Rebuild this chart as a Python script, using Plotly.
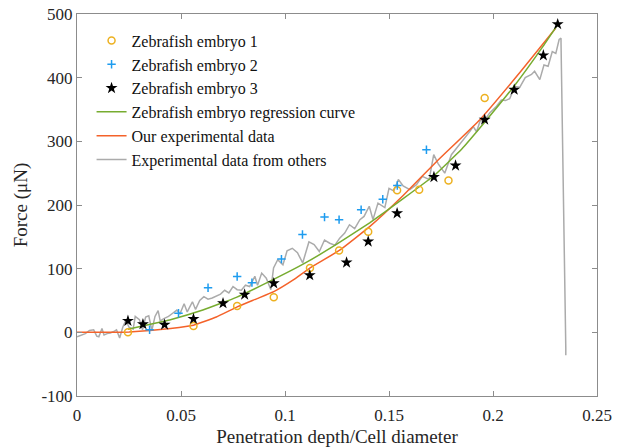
import plotly.graph_objects as go

# Zebrafish embryo 1 (circles)
e1_x = [0.0245, 0.056, 0.077, 0.0946, 0.112, 0.126, 0.140, 0.1539, 0.1645, 0.1786, 0.196]
e1_y = [0, 10, 41.5, 55, 101, 128.5, 158, 223, 224, 238.5, 368]

# Zebrafish embryo 2 (crosses)
e2_x = [0.0349, 0.0488, 0.063, 0.077, 0.0841, 0.0983, 0.1084, 0.119, 0.126, 0.1366, 0.147, 0.154, 0.168]
e2_y = [4, 30, 70, 87.6, 78, 115, 153.6, 181, 177, 192.5, 209, 230.7, 286.8]

# Zebrafish embryo 3 (stars)
e3_x = [0.0245, 0.0317, 0.0421, 0.056, 0.0702, 0.0806, 0.0946, 0.1119, 0.1296, 0.140, 0.1539,
        0.1716, 0.182, 0.196, 0.2102, 0.2242, 0.2311]
e3_y = [18, 12.7, 12, 21, 45.7, 59.3, 77, 89.7, 109.6, 142.6, 187,
        243.9, 262, 334, 381, 435, 484]

# Regression curve (green)
reg_x = [0.0245, 0.0445, 0.0605, 0.0766, 0.0926, 0.1087, 0.1247, 0.1407, 0.1568, 0.1716,
         0.1850, 0.1960, 0.2102, 0.2242, 0.2310]
reg_y = [5, 19.5, 35, 55, 80, 107, 138, 172, 210, 246, 288, 330, 387, 450, 483]

# Our experimental data (orange)
ours_x = [0, 0.018, 0.025, 0.035, 0.045, 0.056, 0.067, 0.077, 0.0866, 0.0946, 0.1038, 0.1119,
          0.1263, 0.1407, 0.1568, 0.1728, 0.1937, 0.2129, 0.2302]
ours_y = [0, 0, 0.5, 3, 6, 11, 24, 40, 53, 64, 82, 101, 129, 166, 215, 268, 334, 408, 478]

# Experimental data from others (gray)
oth_x = [0, 0.002, 0.004, 0.006, 0.008, 0.0095, 0.0105, 0.012, 0.013, 0.0145, 0.016, 0.018, 0.019,
         0.0205, 0.022, 0.0235, 0.025, 0.027, 0.028, 0.030, 0.0315, 0.033, 0.0345, 0.036, 0.0375,
         0.039, 0.040, 0.042, 0.044, 0.046, 0.048, 0.0495, 0.0515, 0.053, 0.0555, 0.057, 0.059,
         0.061, 0.063, 0.065, 0.067, 0.069, 0.071, 0.073, 0.075, 0.077, 0.079, 0.081, 0.083,
         0.0855, 0.0868, 0.0888, 0.091, 0.0932, 0.0945, 0.0965, 0.099, 0.101, 0.1035, 0.106,
         0.1085, 0.1115, 0.114, 0.1165, 0.119, 0.1215, 0.124, 0.1263, 0.1287, 0.131, 0.1335,
         0.136, 0.138, 0.1405, 0.1423, 0.1447, 0.148, 0.150, 0.1523, 0.1545, 0.1568, 0.160,
         0.1632, 0.166, 0.1693, 0.1715, 0.1736, 0.1768, 0.180, 0.1825, 0.1849, 0.1873, 0.189,
         0.1905, 0.1921, 0.194, 0.1953, 0.1985, 0.2017, 0.204, 0.206, 0.208, 0.2105, 0.2129,
         0.2155, 0.2185, 0.220, 0.2225, 0.2245, 0.2265, 0.2285, 0.2302, 0.2318, 0.2327, 0.2327,
         0.2350, 0.2350]
oth_y = [-7, -5, -2, 3, 4, -6, -7, 6, -4, -2, -1, 2, 4,
         -9, 8, 19, 8, 5, 25, 20, 4, 24, 26, 3, 25,
         34, 18, 22, 25, 30, 35, 29, 45, 32, 48, 36, 50,
         56, 52, 54, 57, 60, 66, 62, 72, 67, 66, 74, 72,
         88, 74, 93, 85, 67, 101, 114, 106, 128, 132, 125,
         109, 142, 138, 127, 145, 140, 137, 148, 156, 169, 163,
         177, 182, 198, 177, 203, 196, 226, 222, 240, 230, 224,
         232, 245, 240, 279, 265, 250, 279, 289, 300, 308, 316,
         323, 315, 334, 330, 345, 355, 365, 364, 367, 386, 385,
         400, 405, 410, 397, 420, 418, 441, 438, 460, 462, 455, -25,
         -36, -3]

x_ticks = [0, 0.05, 0.1, 0.15, 0.2, 0.25]
x_tick_text = ["0", "0.05", "0.1", "0.15", "0.2", "0.25"]
y_ticks = [-100, 0, 100, 200, 300, 400, 500]
y_tick_text = ["-100", "0", "100", "200", "300", "400", "500"]

FONT = "Liberation Serif, Times New Roman, serif"
C_GRAY = "#ABABAB"
C_ORANGE = "#F4622A"
C_GREEN = "#77AC30"

fig = go.Figure()
fig.add_trace(go.Scatter(x=oth_x, y=oth_y, mode="lines", name="Experimental data from others",
                         line=dict(color=C_GRAY, width=1.5), showlegend=False))
fig.add_trace(go.Scatter(x=ours_x, y=ours_y, mode="lines", name="Our experimental data",
                         line=dict(color=C_ORANGE, width=1.5, shape="spline", smoothing=0.3),
                         showlegend=False))
fig.add_trace(go.Scatter(x=reg_x, y=reg_y, mode="lines", name="Zebrafish embryo regression curve",
                         line=dict(color=C_GREEN, width=1.5, shape="spline", smoothing=0.3),
                         showlegend=False))
fig.add_trace(go.Scatter(x=e1_x, y=e1_y, mode="markers", name="Zebrafish embryo 1",
                         marker=dict(symbol="circle-open", size=7, color="#EDB120",
                                     line=dict(width=1.5, color="#EDB120"))))
fig.add_trace(go.Scatter(x=e2_x, y=e2_y, mode="markers", name="Zebrafish embryo 2",
                         marker=dict(symbol="cross-thin", size=6, color="#1E9CEF",
                                     line=dict(width=1.5, color="#1E9CEF"))))
fig.add_trace(go.Scatter(x=e3_x, y=e3_y, mode="markers", name="Zebrafish embryo 3",
                         marker=dict(symbol="star", size=9, color="#000000",
                                     line=dict(width=0))))
# legend entries for lines (in reference legend order)
fig.add_trace(go.Scatter(x=[None], y=[None], mode="lines", name="Zebrafish embryo regression curve",
                         line=dict(color=C_GREEN, width=1.5)))
fig.add_trace(go.Scatter(x=[None], y=[None], mode="lines", name="Our experimental data",
                         line=dict(color=C_ORANGE, width=1.5)))
fig.add_trace(go.Scatter(x=[None], y=[None], mode="lines", name="Experimental data from others",
                         line=dict(color=C_GRAY, width=1.5)))

axis_common = dict(showline=True, linecolor="#8C8C8C", linewidth=1, mirror="ticks",
                   ticks="inside", ticklen=5, tickcolor="#8C8C8C", showgrid=False, zeroline=False,
                   automargin=False,
                   tickfont=dict(family=FONT, size=17, color="#262626"))

fig.update_layout(
    width=623, height=447,
    margin=dict(l=77, r=26, t=14, b=51),
    plot_bgcolor="white", paper_bgcolor="white",
    font=dict(family=FONT, color="#262626"),
    xaxis=dict(range=[0, 0.25], tickvals=x_ticks, ticktext=x_tick_text,
               ticklabelstandoff=4,
               title=dict(text="Penetration depth/Cell diameter", font=dict(family=FONT, size=19),
                          standoff=8),
               **axis_common),
    yaxis=dict(range=[-100, 500], tickvals=y_ticks, ticktext=y_tick_text,
               title=dict(text="Force (μN)", font=dict(family=FONT, size=19), standoff=8),
               **axis_common),
    legend=dict(x=0.028, y=0.975, xanchor="left", yanchor="top", bgcolor="rgba(0,0,0,0)",
                font=dict(family=FONT, size=16, color="#111111"), itemwidth=30,
                tracegroupgap=0),
    showlegend=True,
)

fig.write_html("out.html")
